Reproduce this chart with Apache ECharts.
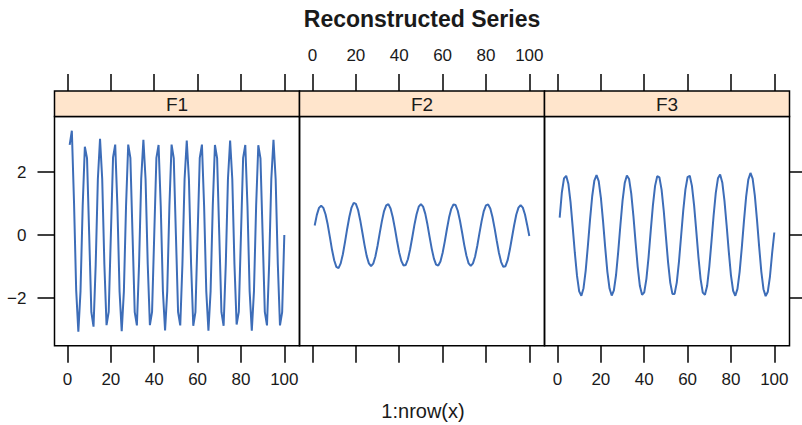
<!DOCTYPE html>
<html>
<head>
<meta charset="utf-8">
<script src="https://cdn.jsdelivr.net/npm/echarts@6/dist/echarts.min.js"></script>
<style>html,body{margin:0;padding:0;background:#fff}#c{width:802px;height:425px}</style>
</head>
<body>
<div id="c"></div>
<script>
const panelNames = ['F1', 'F2', 'F3'];
const xTicks = [0, 20, 40, 60, 80, 100];
const yTicks = [-2, 0, 2];
const titleText = 'Reconstructed Series';
const xLabelText = '1:nrow(x)';

const f1 = [2.86,3.31,1.05,-1.75,-3.07,-1.78,0.92,2.80,2.44,0.02,
  -2.45,-2.91,-0.94,1.78,3.05,1.79,-0.93,-2.86,-2.44,0.01,
  2.46,2.87,0.94,-1.78,-3.05,-1.79,0.93,2.87,2.45,-0.01,
  -2.45,-2.87,-0.93,1.79,3.02,1.78,-0.93,-2.86,-2.44,0.00,
  2.45,2.86,0.93,-1.78,-3.03,-1.78,0.93,2.87,2.44,0.00,
  -2.45,-2.87,-0.93,1.78,3.00,1.77,-0.93,-2.88,-2.45,0.00,
  2.45,2.87,0.93,-1.78,-3.04,-1.78,0.93,2.86,2.44,0.00,
  -2.45,-2.88,-0.93,1.78,3.00,1.78,-0.93,-2.84,-2.44,0.00,
  2.45,2.86,0.93,-1.78,-3.04,-1.78,0.93,2.85,2.43,0.00,
  -2.44,-2.87,-0.93,1.78,3.02,1.78,-0.93,-2.87,-2.45,0.00];

const f2 = [0.30,0.64,0.86,0.93,0.86,0.66,0.34,-0.06,-0.47,-0.80,
  -1.01,-1.05,-0.90,-0.61,-0.22,0.20,0.58,0.87,1.02,0.99,
  0.80,0.47,0.08,-0.32,-0.67,-0.90,-0.99,-0.91,-0.68,-0.34,
  0.06,0.44,0.76,0.94,0.98,0.84,0.57,0.21,-0.19,-0.56,
  -0.83,-0.97,-0.95,-0.77,-0.46,-0.08,0.32,0.66,0.90,0.98,
  0.90,0.68,0.34,-0.06,-0.44,-0.75,-0.94,-0.97,-0.84,-0.57,
  -0.21,0.19,0.56,0.83,0.97,0.95,0.77,0.46,0.08,-0.32,
  -0.66,-0.90,-0.98,-0.90,-0.68,-0.34,0.06,0.44,0.76,0.94,
  0.97,0.84,0.57,0.21,-0.19,-0.57,-0.86,-1.01,-0.99,-0.80,
  -0.47,-0.08,0.31,0.65,0.87,0.95,0.87,0.65,0.32,-0.03];

const f3 = [0.55,1.35,1.80,1.88,1.63,1.05,0.26,-0.57,-1.30,-1.79,
  -1.93,-1.69,-1.13,-0.35,0.49,1.23,1.73,1.90,1.71,1.19,
  0.44,-0.40,-1.17,-1.70,-1.92,-1.76,-1.27,-0.53,0.31,1.09,
  1.65,1.89,1.78,1.32,0.61,-0.23,-1.02,-1.62,-1.90,-1.82,
  -1.39,-0.70,0.14,0.94,1.56,1.87,1.83,1.44,0.77,-0.05,
  -0.87,-1.51,-1.87,-1.87,-1.51,-0.86,-0.04,0.78,1.45,1.84,
  1.88,1.56,0.94,0.13,-0.70,-1.40,-1.83,-1.90,-1.62,-1.01,
  -0.22,0.62,1.34,1.80,1.92,1.67,1.09,0.31,-0.53,-1.28,
  -1.77,-1.93,-1.71,-1.17,-0.40,0.45,1.22,1.76,1.97,1.79,
  1.26,0.49,-0.37,-1.16,-1.72,-1.94,-1.80,-1.31,-0.57,0.08];

const seriesValues = [f1, f2, f3];

const FONT = 'Liberation Sans, Arial, Helvetica, sans-serif';
const INK = '#1a1a1a';
const LINE = '#3D6DB8';
const left0 = 54.5, panelW = 245, gridTop = 116.5, gridH = 229.2, stripH = 25.5;
const xMin = -6, xMax = 107, yMin = -3.514, yMax = 3.762;
const tickLen = 17;
const minusFmt = v => (v < 0 ? '\u2212' + Math.abs(v) : String(v));
const tickStyle = { color: '#000', width: 1.5 };

const grids = [], xAxes = [], yAxes = [], series = [], graphics = [];
panelNames.forEach((name, i) => {
  const lx = left0 + i * panelW;
  grids.push({ left: lx, top: gridTop, width: panelW, height: gridH, show: true,
    borderColor: '#000', borderWidth: 1.5, backgroundColor: 'transparent', containLabel: false });
  // bottom axis
  xAxes.push({ type: 'value', gridIndex: i, position: 'bottom', min: xMin, max: xMax,
    axisLine: { show: false, onZero: false }, splitLine: { show: false },
    axisTick: { show: true, length: tickLen, inside: false, customValues: xTicks, lineStyle: tickStyle },
    axisLabel: { show: i !== 1, customValues: xTicks, margin: 25, color: INK, fontSize: 17, fontFamily: FONT, formatter: minusFmt } });
  // top axis
  xAxes.push({ type: 'value', gridIndex: i, position: 'top', offset: stripH, min: xMin, max: xMax,
    axisLine: { show: false, onZero: false }, splitLine: { show: false },
    axisTick: { show: true, length: tickLen, inside: false, customValues: xTicks, lineStyle: tickStyle },
    axisLabel: { show: i === 1, customValues: xTicks, margin: 27, color: INK, fontSize: 17, fontFamily: FONT, formatter: minusFmt } });
  yAxes.push({ type: 'value', gridIndex: i, position: i === 2 ? 'right' : 'left', min: yMin, max: yMax,
    axisLine: { show: false, onZero: false }, splitLine: { show: false },
    axisTick: { show: i !== 1, length: tickLen, inside: false, customValues: yTicks, lineStyle: tickStyle },
    axisLabel: { show: i === 0, customValues: yTicks, margin: 28, color: INK, fontSize: 17, fontFamily: FONT, formatter: minusFmt } });
  series.push({ type: 'line', xAxisIndex: i * 2, yAxisIndex: i, showSymbol: false, symbol: 'none',
    lineStyle: { color: LINE, width: 2 }, itemStyle: { color: LINE }, animation: false,
    data: seriesValues[i].map((v, k) => [k + 1, v]) });
  graphics.push({ type: 'rect', shape: { x: lx, y: gridTop - stripH, width: panelW, height: stripH },
    style: { fill: '#FFE5CC', stroke: '#000', lineWidth: 1.5 }, z: 10 });
  graphics.push({ type: 'text', x: lx + panelW / 2, y: gridTop - stripH / 2 + 1, z: 11,
    style: { text: name, fill: INK, font: '19px ' + FONT, textAlign: 'center', textVerticalAlign: 'middle' } });
});
graphics.push({ type: 'text', x: 422, y: 19, z: 11,
  style: { text: titleText, fill: INK, font: 'bold 23px ' + FONT, textAlign: 'center', textVerticalAlign: 'middle' } });
graphics.push({ type: 'text', x: 423, y: 411, z: 11,
  style: { text: xLabelText, fill: INK, font: '20px ' + FONT, textAlign: 'center', textVerticalAlign: 'middle' } });

const chart = echarts.init(document.getElementById('c'), null, { renderer: 'svg' });
chart.setOption({ animation: false, backgroundColor: '#fff', grid: grids, xAxis: xAxes, yAxis: yAxes, series, graphic: graphics });
</script>
</body>
</html>
